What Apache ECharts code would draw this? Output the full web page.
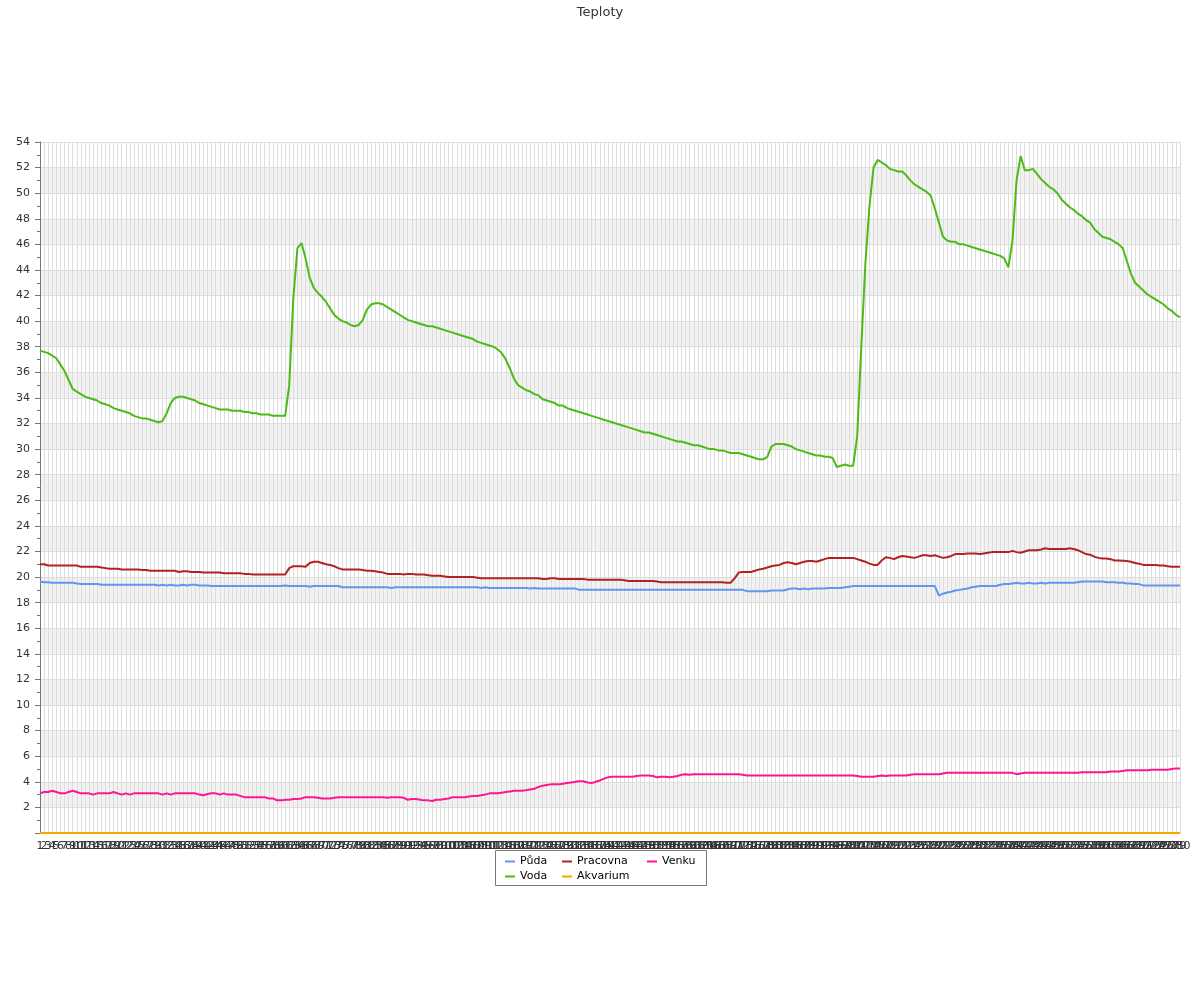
<!DOCTYPE html>
<html>
<head>
<meta charset="utf-8">
<script src="https://cdn.jsdelivr.net/npm/echarts@6/dist/echarts.min.js"></script>
<style>html,body{margin:0;padding:0;background:#fff}#c{width:1200px;height:1000px}</style>
</head>
<body>
<div id="c"></div>
<script>
var categories = Array.from({length: 280}, function (_, i) { return String(i + 1); });
var yTicks = { min: 0, max: 54, interval: 2 };

var puda = [
19.65,19.6,19.6,19.55,19.55,19.55,19.55,19.55,19.55,19.5,
19.45,19.45,19.45,19.45,19.45,19.4,19.4,19.4,19.4,19.4,
19.4,19.4,19.4,19.4,19.4,19.4,19.4,19.4,19.4,19.35,
19.4,19.35,19.4,19.35,19.35,19.4,19.35,19.4,19.4,19.35,
19.35,19.35,19.3,19.3,19.3,19.3,19.3,19.3,19.3,19.3,
19.3,19.3,19.3,19.3,19.3,19.3,19.3,19.3,19.3,19.3,
19.35,19.3,19.3,19.3,19.3,19.3,19.25,19.3,19.3,19.3,
19.3,19.3,19.3,19.3,19.2,19.2,19.2,19.2,19.2,19.2,
19.2,19.2,19.2,19.2,19.2,19.2,19.15,19.2,19.2,19.2,
19.2,19.2,19.2,19.2,19.2,19.2,19.2,19.2,19.2,19.2,
19.2,19.2,19.2,19.2,19.2,19.2,19.2,19.2,19.15,19.2,
19.15,19.15,19.15,19.15,19.15,19.15,19.15,19.15,19.15,19.15,
19.1,19.15,19.1,19.1,19.1,19.1,19.1,19.1,19.1,19.1,
19.1,19.1,19.0,19.0,19.0,19.0,19.0,19.0,19.0,19.0,
19.0,19.0,19.0,19.0,19.0,19.0,19.0,19.0,19.0,19.0,
19.0,19.0,19.0,19.0,19.0,19.0,19.0,19.0,19.0,19.0,
19.0,19.0,19.0,19.0,19.0,19.0,19.0,19.0,19.0,19.0,
19.0,19.0,19.0,18.9,18.9,18.9,18.9,18.9,18.9,18.95,
18.95,18.95,18.95,19.05,19.1,19.1,19.05,19.1,19.05,19.1,
19.1,19.1,19.1,19.15,19.15,19.15,19.15,19.2,19.25,19.3,
19.3,19.3,19.3,19.3,19.3,19.3,19.3,19.3,19.3,19.3,
19.3,19.3,19.3,19.3,19.3,19.3,19.3,19.3,19.3,19.3,
18.55,18.7,18.8,18.85,18.95,19.0,19.05,19.1,19.2,19.25,
19.3,19.3,19.3,19.3,19.3,19.4,19.45,19.45,19.5,19.55,
19.5,19.5,19.55,19.5,19.5,19.55,19.5,19.55,19.55,19.55,
19.55,19.55,19.55,19.55,19.6,19.65,19.65,19.65,19.65,19.65,
19.65,19.6,19.6,19.6,19.55,19.55,19.5,19.5,19.45,19.45,
19.35,19.35,19.35,19.35,19.35,19.35,19.35,19.35,19.35,19.35
];

var voda = [
37.7,37.6,37.5,37.3,37.1,36.6,36.1,35.4,34.7,34.5,
34.3,34.1,34.0,33.9,33.8,33.6,33.5,33.4,33.2,33.1,
33.0,32.9,32.8,32.6,32.5,32.4,32.4,32.3,32.2,32.1,
32.2,32.8,33.6,34.0,34.1,34.1,34.0,33.9,33.8,33.6,
33.5,33.4,33.3,33.2,33.1,33.1,33.1,33.0,33.0,33.0,
32.9,32.9,32.8,32.8,32.7,32.7,32.7,32.6,32.6,32.6,
32.6,35.0,41.8,45.7,46.1,44.9,43.4,42.6,42.2,41.9,
41.5,41.0,40.5,40.2,40.0,39.9,39.7,39.6,39.7,40.1,
40.9,41.3,41.4,41.4,41.3,41.1,40.9,40.7,40.5,40.3,
40.1,40.0,39.9,39.8,39.7,39.6,39.6,39.5,39.4,39.3,
39.2,39.1,39.0,38.9,38.8,38.7,38.6,38.4,38.3,38.2,
38.1,38.0,37.8,37.5,37.0,36.3,35.5,35.0,34.8,34.6,
34.5,34.3,34.2,33.9,33.8,33.7,33.6,33.4,33.4,33.2,
33.1,33.0,32.9,32.8,32.7,32.6,32.5,32.4,32.3,32.2,
32.1,32.0,31.9,31.8,31.7,31.6,31.5,31.4,31.3,31.3,
31.2,31.1,31.0,30.9,30.8,30.7,30.6,30.6,30.5,30.4,
30.3,30.3,30.2,30.1,30.0,30.0,29.9,29.9,29.8,29.7,
29.7,29.7,29.6,29.5,29.4,29.3,29.2,29.2,29.4,30.2,
30.4,30.4,30.4,30.3,30.2,30.0,29.9,29.8,29.7,29.6,
29.5,29.5,29.4,29.4,29.3,28.6,28.7,28.8,28.7,28.7,
31.0,38.0,44.5,49.0,52.0,52.6,52.4,52.2,51.9,51.8,
51.7,51.7,51.4,51.0,50.7,50.5,50.3,50.1,49.8,48.8,
47.7,46.6,46.3,46.2,46.2,46.0,46.0,45.9,45.8,45.7,
45.6,45.5,45.4,45.3,45.2,45.1,44.9,44.2,46.3,51.0,
52.9,51.8,51.8,51.9,51.5,51.1,50.8,50.5,50.3,50.0,
49.5,49.2,48.9,48.7,48.4,48.2,47.9,47.7,47.2,46.9,
46.6,46.5,46.4,46.2,46.0,45.7,44.7,43.7,43.0,42.7,
42.4,42.1,41.9,41.7,41.5,41.3,41.0,40.8,40.5,40.3
];

var pracovna = [
21.0,21.0,20.9,20.9,20.9,20.9,20.9,20.9,20.9,20.9,
20.8,20.8,20.8,20.8,20.8,20.75,20.7,20.65,20.65,20.65,
20.6,20.6,20.6,20.6,20.6,20.55,20.55,20.5,20.5,20.5,
20.5,20.5,20.5,20.5,20.4,20.45,20.45,20.4,20.4,20.4,
20.35,20.35,20.35,20.35,20.35,20.3,20.3,20.3,20.3,20.3,
20.25,20.25,20.2,20.2,20.2,20.2,20.2,20.2,20.2,20.2,
20.2,20.7,20.85,20.85,20.85,20.8,21.1,21.2,21.2,21.1,
21.0,20.95,20.85,20.7,20.6,20.6,20.6,20.6,20.6,20.55,
20.5,20.5,20.45,20.4,20.35,20.25,20.25,20.25,20.25,20.2,
20.25,20.25,20.2,20.2,20.2,20.15,20.1,20.1,20.1,20.05,
20.0,20.0,20.0,20.0,20.0,20.0,20.0,19.95,19.9,19.9,
19.9,19.9,19.9,19.9,19.9,19.9,19.9,19.9,19.9,19.9,
19.9,19.9,19.9,19.85,19.85,19.9,19.9,19.85,19.85,19.85,
19.85,19.85,19.85,19.85,19.8,19.8,19.8,19.8,19.8,19.8,
19.8,19.8,19.8,19.75,19.7,19.7,19.7,19.7,19.7,19.7,
19.7,19.65,19.6,19.6,19.6,19.6,19.6,19.6,19.6,19.6,
19.6,19.6,19.6,19.6,19.6,19.6,19.6,19.6,19.55,19.55,
19.9,20.35,20.4,20.4,20.4,20.5,20.6,20.65,20.75,20.85,
20.9,20.95,21.1,21.15,21.1,21.0,21.1,21.2,21.25,21.25,
21.2,21.3,21.4,21.5,21.5,21.5,21.5,21.5,21.5,21.5,
21.4,21.3,21.2,21.05,20.95,20.95,21.3,21.55,21.5,21.4,
21.55,21.65,21.6,21.55,21.5,21.6,21.7,21.7,21.65,21.7,
21.6,21.5,21.55,21.65,21.8,21.8,21.8,21.85,21.85,21.85,
21.8,21.85,21.9,21.95,21.95,21.95,21.95,21.95,22.05,21.95,
21.9,22.0,22.1,22.1,22.1,22.15,22.25,22.2,22.2,22.2,
22.2,22.2,22.25,22.2,22.1,21.95,21.8,21.75,21.6,21.5,
21.45,21.45,21.4,21.3,21.3,21.28,21.25,21.2,21.1,21.05,
20.95,20.95,20.95,20.95,20.9,20.9,20.85,20.8,20.8,20.8
];

var akvarium = [
0,0,0,0,0,0,0,0,0,0, 0,0,0,0,0,0,0,0,0,0, 0,0,0,0,0,0,0,0,0,0, 0,0,0,0,0,0,0,0,0,0,
0,0,0,0,0,0,0,0,0,0, 0,0,0,0,0,0,0,0,0,0, 0,0,0,0,0,0,0,0,0,0, 0,0,0,0,0,0,0,0,0,0,
0,0,0,0,0,0,0,0,0,0, 0,0,0,0,0,0,0,0,0,0, 0,0,0,0,0,0,0,0,0,0, 0,0,0,0,0,0,0,0,0,0,
0,0,0,0,0,0,0,0,0,0, 0,0,0,0,0,0,0,0,0,0, 0,0,0,0,0,0,0,0,0,0, 0,0,0,0,0,0,0,0,0,0,
0,0,0,0,0,0,0,0,0,0, 0,0,0,0,0,0,0,0,0,0, 0,0,0,0,0,0,0,0,0,0, 0,0,0,0,0,0,0,0,0,0,
0,0,0,0,0,0,0,0,0,0, 0,0,0,0,0,0,0,0,0,0, 0,0,0,0,0,0,0,0,0,0, 0,0,0,0,0,0,0,0,0,0,
0,0,0,0,0,0,0,0,0,0, 0,0,0,0,0,0,0,0,0,0, 0,0,0,0,0,0,0,0,0,0, 0,0,0,0,0,0,0,0,0,0
];

var venku = [
3.1,3.2,3.2,3.3,3.2,3.1,3.1,3.2,3.3,3.2,
3.1,3.1,3.1,3.0,3.1,3.1,3.1,3.1,3.2,3.1,
3.0,3.1,3.0,3.1,3.1,3.1,3.1,3.1,3.1,3.1,
3.0,3.1,3.0,3.1,3.1,3.1,3.1,3.1,3.1,3.0,
2.95,3.05,3.1,3.1,3.0,3.1,3.0,3.0,3.0,2.9,
2.8,2.8,2.8,2.8,2.8,2.8,2.7,2.7,2.55,2.55,
2.6,2.6,2.65,2.65,2.7,2.8,2.8,2.8,2.75,2.7,
2.7,2.7,2.75,2.8,2.8,2.8,2.8,2.8,2.8,2.8,
2.8,2.8,2.8,2.8,2.8,2.75,2.8,2.8,2.8,2.75,
2.6,2.65,2.65,2.6,2.55,2.55,2.5,2.6,2.6,2.65,
2.7,2.8,2.8,2.8,2.8,2.85,2.9,2.9,2.95,3.0,
3.1,3.1,3.1,3.15,3.2,3.25,3.3,3.3,3.3,3.35,
3.4,3.45,3.6,3.7,3.75,3.8,3.8,3.8,3.85,3.9,
3.95,4.0,4.05,4.05,3.95,3.9,4.0,4.1,4.25,4.35,
4.4,4.4,4.4,4.4,4.4,4.4,4.45,4.5,4.5,4.5,
4.45,4.35,4.4,4.4,4.35,4.4,4.45,4.55,4.6,4.55,
4.6,4.6,4.6,4.6,4.6,4.6,4.6,4.6,4.6,4.6,
4.6,4.6,4.55,4.5,4.5,4.5,4.5,4.5,4.5,4.5,
4.5,4.5,4.5,4.5,4.5,4.5,4.5,4.5,4.5,4.5,
4.5,4.5,4.5,4.5,4.5,4.5,4.5,4.5,4.5,4.5,
4.45,4.4,4.4,4.4,4.4,4.45,4.5,4.45,4.5,4.5,
4.5,4.5,4.5,4.55,4.6,4.6,4.6,4.6,4.6,4.6,
4.6,4.65,4.7,4.7,4.7,4.7,4.7,4.7,4.7,4.7,
4.7,4.7,4.7,4.7,4.7,4.7,4.7,4.7,4.7,4.6,
4.65,4.7,4.7,4.7,4.7,4.7,4.7,4.7,4.7,4.7,
4.7,4.7,4.7,4.7,4.7,4.75,4.75,4.75,4.75,4.75,
4.75,4.75,4.8,4.8,4.8,4.85,4.9,4.9,4.9,4.9,
4.9,4.9,4.95,4.95,4.95,4.95,4.95,5.0,5.05,5.05
];

var FONT = 'DejaVu Sans';
var colors = { 'Půda': '#6495ED', 'Voda': '#4CBB17', 'Pracovna': '#B22222', 'Akvarium': '#FFA500', 'Venku': '#FF1493' };

function mkSeries(name, data) {
  return {
    name: name, type: 'line', data: data, symbol: 'none', showSymbol: false,
    lineStyle: { width: 2, color: colors[name] }, itemStyle: { color: colors[name] },
    emphasis: { disabled: true }
  };
}

function mkLegend(left, names) {
  return {
    orient: 'vertical', left: left, top: 856, padding: 0, itemGap: 4,
    itemWidth: 10, itemHeight: 2, icon: 'rect',
    textStyle: { fontSize: 11, color: '#000', fontFamily: FONT },
    data: names
  };
}

var chart = echarts.init(document.getElementById('c'));
chart.setOption({
  animation: false,
  backgroundColor: '#fff',
  title: {
    text: 'Teploty', left: 'center', top: 1,
    textStyle: { fontSize: 13, fontWeight: 'normal', color: '#333', fontFamily: FONT }
  },
  legend: [
    mkLegend(505, ['Půda', 'Voda']),
    mkLegend(562, ['Pracovna', 'Akvarium']),
    mkLegend(647, ['Venku'])
  ],
  graphic: [{
    type: 'rect', silent: true,
    shape: { x: 495.5, y: 850.5, width: 211, height: 35 },
    style: { fill: 'none', stroke: '#777', lineWidth: 1 }
  }],
  grid: { left: 40, right: 20, top: 142, bottom: 167 },
  xAxis: {
    type: 'category', data: categories, boundaryGap: false,
    axisLine: { lineStyle: { color: '#888' } },
    axisTick: { show: false },
    axisLabel: { interval: 0, fontSize: 11, color: '#333', margin: 8, fontFamily: FONT },
    splitLine: { show: true, interval: 0, lineStyle: { color: '#ddd', width: 1 } }
  },
  yAxis: {
    type: 'value', min: yTicks.min, max: yTicks.max, interval: yTicks.interval,
    axisLine: { show: true, lineStyle: { color: '#777' } },
    axisTick: { show: true, length: 5, lineStyle: { color: '#777' } },
    minorTick: { show: true, splitNumber: 2, length: 3, lineStyle: { color: '#777' } },
    axisLabel: { fontSize: 11, color: '#333', margin: 10, fontFamily: FONT, showMinLabel: false,
      formatter: function (v) { return v === 0 ? '' : String(v); } },
    splitLine: { show: true, lineStyle: { color: '#ddd', width: 1 } },
    splitArea: { show: true, areaStyle: { color: ['#ffffff', '#f2f2f2'] } }
  },
  series: [
    mkSeries('Půda', puda),
    mkSeries('Voda', voda),
    mkSeries('Pracovna', pracovna),
    mkSeries('Akvarium', akvarium),
    mkSeries('Venku', venku)
  ]
});
</script>
</body>
</html>
